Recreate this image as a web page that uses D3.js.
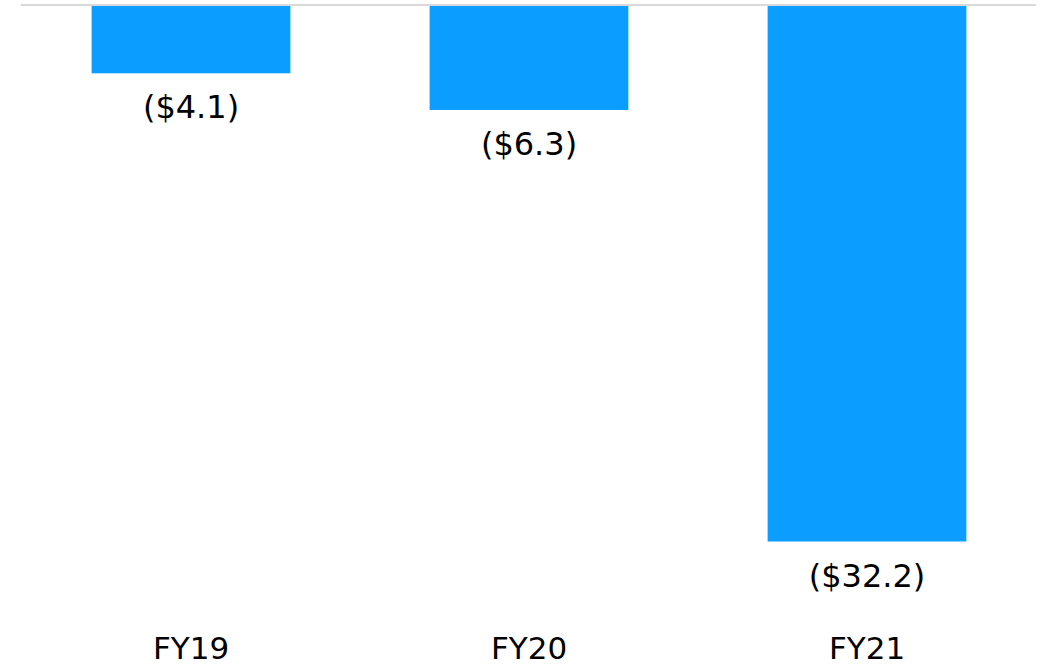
<!DOCTYPE html>
<html><head><meta charset="utf-8">
<script src="https://cdn.jsdelivr.net/npm/d3@7"></script>
<style>html,body{margin:0;padding:0;background:#fff;}svg{display:block;}</style>
</head><body>
<svg id="c" width="1046" height="668"></svg>
<script>
const categories = ["FY19", "FY20", "FY21"];
const values = [-4.1, -6.3, -32.2];
const valueLabels = ["($4.1)", "($6.3)", "($32.2)"];

const svg = d3.select("#c");
const x = d3.scaleBand().domain(categories).range([22, 1036]).paddingInner(0.412).paddingOuter(0.206);
const y = d3.scaleLinear().domain([0, -32.2]).range([5, 541.5]);

svg.selectAll("rect.bar").data(values).join("rect")
  .attr("class", "bar")
  .attr("x", (d, i) => x(categories[i]))
  .attr("width", x.bandwidth())
  .attr("y", y(0))
  .attr("height", d => y(d) - y(0))
  .attr("fill", "#0B9DFF");

svg.append("line")
  .attr("x1", 21).attr("x2", 1036)
  .attr("y1", y(0)).attr("y2", y(0))
  .attr("stroke", "#d9d9d9").attr("stroke-width", 2);

svg.selectAll("text.val").data(values).join("text")
  .attr("class", "val")
  .attr("x", (d, i) => x(categories[i]) + x.bandwidth() / 2)
  .attr("y", d => y(d) + 45)
  .attr("text-anchor", "middle")
  .attr("font-family", "DejaVu Sans, Verdana, sans-serif")
  .attr("font-size", 32)
  .attr("fill", "#000")
  .text((d, i) => valueLabels[i]);

svg.selectAll("text.cat").data(categories).join("text")
  .attr("class", "cat")
  .attr("x", d => x(d) + x.bandwidth() / 2)
  .attr("y", 659)
  .attr("text-anchor", "middle")
  .attr("font-family", "DejaVu Sans, Verdana, sans-serif")
  .attr("font-size", 31)
  .attr("fill", "#000")
  .text(d => d);
</script>
</body></html>
